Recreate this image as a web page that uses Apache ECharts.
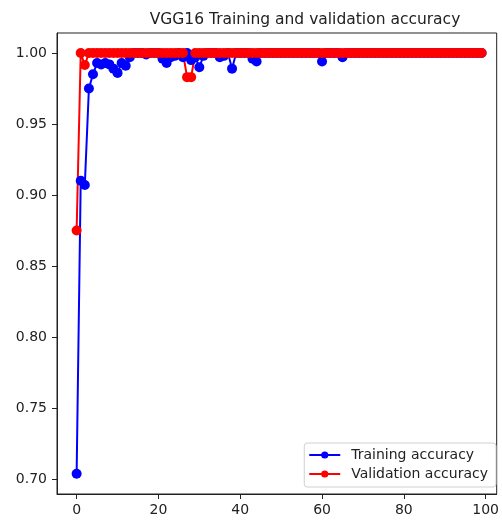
<!DOCTYPE html>
<html>
<head>
<meta charset="utf-8">
<script src="https://cdn.jsdelivr.net/npm/echarts@6/dist/echarts.min.js"></script>
<style>
html,body{margin:0;padding:0;background:#fff;}
#chart{width:502px;height:522px;}
</style>
</head>
<body>
<div id="chart"></div>
<script>
const titleText = "VGG16 Training and validation accuracy";
const seriesNames = ["Training accuracy", "Validation accuracy"];
const xTicks = [0, 20, 40, 60, 80, 100];
const yTicks = [0.70, 0.75, 0.80, 0.85, 0.90, 0.95, 1.00];

const trainingAcc = [
  0.7036, 0.910, 0.907, 0.975, 0.985, 0.993, 0.992, 0.993, 0.992, 0.989,
  0.986, 0.993, 0.991, 0.997, 1.0, 1.0, 1.0, 0.999, 1.0, 1.0,
  1.0, 0.996, 0.993, 0.997, 0.998, 1.0, 0.997, 1.0, 0.995, 0.997,
  0.990, 0.998, 1.0, 1.0, 1.0, 0.997, 0.998, 1.0, 0.989, 1.0,
  1.0, 1.0, 1.0, 0.996, 0.994, 1.0, 1.0, 1.0, 1.0, 1.0,
  1.0, 1.0, 1.0, 1.0, 1.0, 1.0, 1.0, 1.0, 1.0, 1.0,
  0.994, 1.0, 1.0, 1.0, 1.0, 0.997, 1.0, 1.0, 1.0, 1.0,
  1.0, 1.0, 1.0, 1.0, 1.0, 1.0, 1.0, 1.0, 1.0, 1.0,
  1.0, 1.0, 1.0, 1.0, 1.0, 1.0, 1.0, 1.0, 1.0, 1.0,
  1.0, 1.0, 1.0, 1.0, 1.0, 1.0, 1.0, 1.0, 1.0, 1.0
];
const validationAcc = [
  0.875, 1.0, 0.9915, 1.0, 1.0, 1.0, 1.0, 1.0, 1.0, 1.0,
  1.0, 1.0, 1.0, 1.0, 1.0, 1.0, 1.0, 1.0, 1.0, 1.0,
  1.0, 1.0, 1.0, 1.0, 1.0, 1.0, 1.0, 0.983, 0.983, 1.0,
  1.0, 1.0, 1.0, 1.0, 1.0, 1.0, 1.0, 1.0, 1.0, 1.0,
  1.0, 1.0, 1.0, 1.0, 1.0, 1.0, 1.0, 1.0, 1.0, 1.0,
  1.0, 1.0, 1.0, 1.0, 1.0, 1.0, 1.0, 1.0, 1.0, 1.0,
  1.0, 1.0, 1.0, 1.0, 1.0, 1.0, 1.0, 1.0, 1.0, 1.0,
  1.0, 1.0, 1.0, 1.0, 1.0, 1.0, 1.0, 1.0, 1.0, 1.0,
  1.0, 1.0, 1.0, 1.0, 1.0, 1.0, 1.0, 1.0, 1.0, 1.0,
  1.0, 1.0, 1.0, 1.0, 1.0, 1.0, 1.0, 1.0, 1.0, 1.0
];

const toPairs = arr => arr.map((v, i) => [i, v]);
const font = "DejaVu Sans";

const chart = echarts.init(document.getElementById('chart'), null, {renderer: 'canvas'});
chart.setOption({
  animation: false,
  backgroundColor: '#fff',
  title: {
    text: titleText,
    left: 300, top: 7, textAlign: 'center',
    textStyle: {fontFamily: font, fontSize: 15.5, fontWeight: 'normal', color: '#222'}
  },
  grid: {left: 57, right: 2, top: 33, bottom: 28, show: true, borderColor: '#222', borderWidth: 1, backgroundColor: 'transparent'},
  legend: {
    orient: 'vertical', right: 6, top: 443,
    itemWidth: 31, itemHeight: 9, itemGap: 5,
    padding: [5, 8, 6, 4],
    borderColor: '#d0d0d0', borderWidth: 1, borderRadius: 3,
    backgroundColor: 'rgba(255,255,255,0.85)',
    textStyle: {fontFamily: font, fontSize: 14, color: '#222', padding: [0, 0, 0, 6]},
    data: seriesNames
  },
  xAxis: {
    type: 'value', min: -4.8, max: 102.7,
    splitLine: {show: false},
    axisLine: {show: true, onZero: false, lineStyle: {color: '#222', width: 1}},
    axisTick: {show: true, length: 5, lineStyle: {color: '#222'}, customValues: xTicks},
    axisLabel: {fontFamily: font, fontSize: 14, color: '#222', margin: 9, customValues: xTicks, formatter: v => String(Math.round(v))}
  },
  yAxis: {
    type: 'value', min: 0.6894, max: 1.0141,
    splitLine: {show: false},
    axisLine: {show: true, onZero: false, lineStyle: {color: '#222', width: 1}},
    axisTick: {show: true, length: 5, lineStyle: {color: '#222'}, customValues: yTicks},
    axisLabel: {fontFamily: font, fontSize: 14, color: '#222', margin: 10, customValues: yTicks, formatter: v => v.toFixed(2)}
  },
  series: [
    {
      name: seriesNames[0], type: 'line', data: toPairs(trainingAcc),
      symbol: 'circle', symbolSize: 10, showAllSymbol: true,
      lineStyle: {color: '#0000ff', width: 2}, itemStyle: {color: '#0000ff'}
    },
    {
      name: seriesNames[1], type: 'line', data: toPairs(validationAcc),
      symbol: 'circle', symbolSize: 10, showAllSymbol: true,
      lineStyle: {color: '#ff0000', width: 2}, itemStyle: {color: '#ff0000'}
    }
  ]
});
</script>
</body>
</html>
